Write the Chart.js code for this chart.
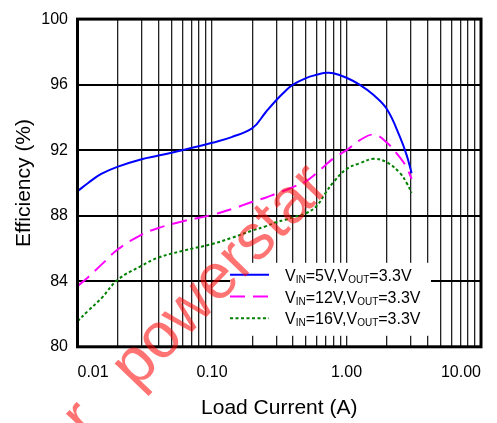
<!DOCTYPE html>
<html>
<head>
<meta charset="utf-8">
<script src="https://cdn.jsdelivr.net/npm/chart.js@4.4.1/dist/chart.umd.min.js"></script>
<style>
  html, body { margin: 0; padding: 0; background: #fff; }
</style>
</head>
<body>
<canvas id="effChart" width="497" height="423"></canvas>
<script>
// load current (A), shared by all three curves
const loadCurrent = [0.01, 0.012, 0.015, 0.02, 0.03, 0.04, 0.06, 0.1, 0.14, 0.2, 0.25, 0.3, 0.35, 0.4, 0.5, 0.6, 0.7, 0.8, 1.0, 1.25, 1.6, 2.0, 2.5, 2.8, 3.05];

// efficiency (%)
const effVin5  = [89.5, 90.0, 90.55, 91.0, 91.45, 91.67, 92.0, 92.45, 92.8, 93.35, 94.3, 95.05, 95.6, 96.0, 96.4, 96.6, 96.72, 96.7, 96.42, 96.0, 95.35, 94.5, 92.8, 91.7, 90.6];
const effVin12 = [83.7, 84.25, 85.0, 85.95, 86.85, 87.25, 87.65, 88.05, 88.4, 88.85, 89.1, 89.35, 89.55, 89.75, 90.1, 90.6, 91.1, 91.5, 92.0, 92.6, 92.95, 92.45, 91.55, 90.95, 90.25];
const effVin16 = [81.55, 82.2, 82.95, 84.1, 84.95, 85.45, 85.85, 86.27, 86.65, 87.1, 87.35, 87.6, 87.75, 87.9, 88.15, 88.6, 89.4, 90.05, 90.85, 91.2, 91.47, 91.25, 90.6, 90.0, 89.4];

// legend text, {..} = subscript
const legendText = ['V{IN}=5V,V{OUT}=3.3V', 'V{IN}=12V,V{OUT}=3.3V', 'V{IN}=16V,V{OUT}=3.3V'];

const xTickValues = [0.01, 0.1, 1, 10];
const xTickLabels = ['0.01', '0.10', '1.00', '10.00'];
const yTicks = [80, 84, 88, 92, 96, 100];

const FONT = '"Liberation Sans", Arial, sans-serif';

// log grid: 1..9 in every decade
const gridValues = [];
for (let e = -2; e <= 0; e++) {
  for (let m = 1; m <= 9; m++) gridValues.push(+(m * Math.pow(10, e)).toPrecision(3));
}
gridValues.push(10);

const pts = ys => loadCurrent.map((x, i) => ({ x: x, y: ys[i] }));

const boxLegend = {
  id: 'boxLegend',
  afterDatasetsDraw(chart) {
    const { ctx, chartArea: a } = chart;
    ctx.save();
    // frame
    ctx.strokeStyle = '#000';
    ctx.lineWidth = 3;
    ctx.strokeRect(a.left, a.top, a.right - a.left, a.bottom - a.top);

    // legend box
    const bx = a.left + 152.5, by = a.bottom - 84;
    ctx.fillStyle = '#fff';
    ctx.fillRect(bx, by, 201, 73);
    chart.data.datasets.forEach((ds, i) => {
      const y = by + 12 + i * 21.7;
      ctx.strokeStyle = ds.borderColor;
      ctx.lineWidth = 2;
      ctx.setLineDash(ds.borderDash || []);
      ctx.beginPath();
      ctx.moveTo(bx, y);
      ctx.lineTo(bx + 39, y);
      ctx.stroke();
      ctx.setLineDash([]);

      ctx.fillStyle = '#000';
      ctx.textBaseline = 'alphabetic';
      ctx.textAlign = 'left';
      let x = bx + 55;
      legendText[i].split(/(\{[^}]*\})/).forEach(part => {
        if (!part) return;
        const sub = part[0] === '{';
        const txt = sub ? part.slice(1, -1) : part;
        ctx.font = (sub ? '10px ' : '16px ') + FONT;
        ctx.fillText(txt, x, sub ? y + 8 : y + 6);
        x += ctx.measureText(txt).width;
      });
    });
    ctx.restore();
  },
  afterDraw(chart) {
    // watermark
    const { ctx } = chart;
    ctx.save();
    ctx.globalAlpha = 0.55;
    ctx.fillStyle = '#ff0000';
    ctx.font = '64px ' + FONT;
    ctx.textBaseline = 'alphabetic';
    ctx.translate(136, 390);
    ctx.rotate(-46 * Math.PI / 180);
    ctx.fillText('powerstar', 0, 0);
    ctx.fillText('r', -70, 0);
    ctx.restore();
  }
};

new Chart(document.getElementById('effChart'), {
  type: 'line',
  data: {
    datasets: [
      { label: 'VIN=5V,VOUT=3.3V', data: pts(effVin5), borderColor: '#0000ff', borderWidth: 2 },
      { label: 'VIN=12V,VOUT=3.3V', data: pts(effVin12), borderColor: '#ff00ff', borderWidth: 2, borderDash: [15, 8] },
      { label: 'VIN=16V,VOUT=3.3V', data: pts(effVin16), borderColor: '#008000', borderWidth: 2, borderDash: [3, 2.5] }
    ].map(d => Object.assign(d, { pointRadius: 0, fill: false, tension: 0.4 }))
  },
  options: {
    responsive: false,
    animation: false,
    layout: { padding: { top: 7.3, right: 2.5, left: 0, bottom: 0 } },
    plugins: { legend: { display: false }, tooltip: { enabled: false } },
    scales: {
      x: {
        type: 'logarithmic',
        min: 0.01,
        max: 10,
        afterBuildTicks: s => { s.ticks = gridValues.map(v => ({ value: v })); },
        afterFit: s => { s.height = 76.2; },
        grid: { color: '#222', lineWidth: 1.3, drawTicks: false },
        border: { display: false },
        ticks: {
          autoSkip: false, maxRotation: 0, align: 'inner', padding: 16, color: '#000',
          font: { family: FONT, size: 16 },
          callback: v => {
            const i = xTickValues.findIndex(t => Math.abs(v / t - 1) < 1e-6);
            return i < 0 ? '' : xTickLabels[i];
          }
        },
        title: { display: true, text: 'Load Current (A)', color: '#000', font: { family: FONT, size: 21 }, padding: { top: 0, bottom: 2 } }
      },
      y: {
        min: 80,
        max: 100,
        afterBuildTicks: s => { s.ticks = yTicks.map(v => ({ value: v })); },
        afterFit: s => { s.width = 77.5; },
        grid: { color: '#000', lineWidth: 2, drawTicks: false },
        border: { display: false },
        ticks: { padding: 9.5, color: '#000', font: { family: FONT, size: 16 } },
        title: { display: true, text: 'Efficiency (%)', color: '#000', font: { family: FONT, size: 21 }, padding: { top: 12, bottom: 0 } }
      }
    }
  },
  plugins: [boxLegend]
});
</script>
</body>
</html>
